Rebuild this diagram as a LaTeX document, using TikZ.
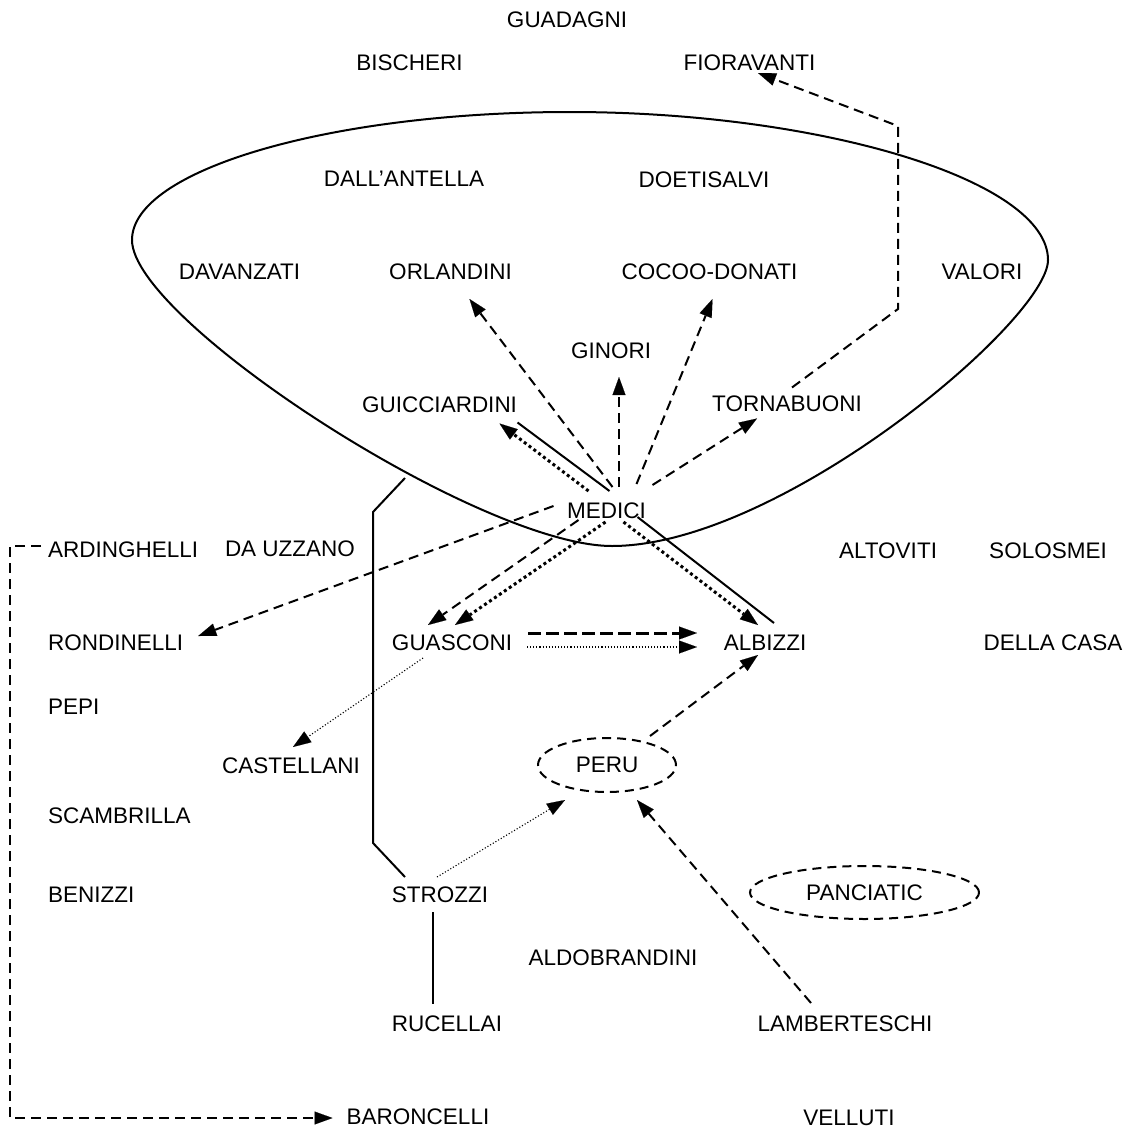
\documentclass[tikz,border=0pt]{standalone}
\usepackage{fontspec}
\setmainfont{Liberation Sans}
\usetikzlibrary{arrows.meta,calc,shapes.geometric}
\begin{document}
\begin{tikzpicture}[x=1pt,y=-1pt,
  lbl/.style={font=\fontsize{22.5}{27}\selectfont, inner sep=2pt},
  tip/.style={-{Triangle[length=18pt,width=13pt,line width=0.1pt]}},
  dsh/.style={line width=2pt, dash pattern=on 10pt off 6pt},
  dshthick/.style={line width=3pt, dash pattern=on 13pt off 5pt},
  dotthick/.style={line width=3pt, dash pattern=on 3pt off 3pt},
  dotthin/.style={line width=1.1pt, dash pattern=on 1.1pt off 2pt},
  solidline/.style={line width=2pt},
  egg/.style={ellipse, draw, line width=2pt, dash pattern=on 9pt off 6pt, inner sep=0pt}]
\useasboundingbox (0,0) rectangle (1127,1132);

% group outline
\draw[line width=2pt] (132,240) .. controls (132,170) and (330,112) .. (570,112)
  .. controls (820,112) and (1048,180) .. (1048,260)
  .. controls (1048,320) and (780,546) .. (612,546)
  .. controls (480,546) and (132,320) .. cycle;
\coordinate (ovalpt) at (405,478);

% labels
\node[lbl] (guadagni) at (567,20) {GUADAGNI};
\node[lbl] (bischeri) at (409.5,63) {BISCHERI};
\node[lbl] (fioravanti) at (749.5,63) {FIORAVANTI};
\node[lbl] (dallantella) at (404,179) {DALL’ANTELLA};
\node[lbl] (doetisalvi) at (704,179.5) {DOETISALVI};
\node[lbl] (davanzati) at (239.5,272) {DAVANZATI};
\node[lbl] (orlandini) at (450.5,272) {ORLANDINI};
\node[lbl] (cocoodonati) at (709.5,272) {COCOO-DONATI};
\node[lbl] (valori) at (982,272) {VALORI};
\node[lbl] (ginori) at (611,351) {GINORI};
\node[lbl] (guicciardini) at (439.5,404.5) {GUICCIARDINI};
\node[lbl] (tornabuoni) at (787,403.5) {TORNABUONI};
\node[lbl] (medici) at (606.5,511) {MEDICI};
\node[lbl,anchor=west] (ardinghelli) at (46,550) {ARDINGHELLI};
\node[lbl] (dauzzano) at (290,549) {DA UZZANO};
\node[lbl] (altoviti) at (888,551) {ALTOVITI};
\node[lbl] (solosmei) at (1048,551) {SOLOSMEI};
\node[lbl,anchor=west] (rondinelli) at (46,643) {RONDINELLI};
\node[lbl] (guasconi) at (452,643) {GUASCONI};
\node[lbl] (albizzi) at (765,643) {ALBIZZI};
\node[lbl] (dellacasa) at (1053,643) {DELLA CASA};
\node[lbl,anchor=west] (pepi) at (46,707) {PEPI};
\node[lbl] (castellani) at (291,766) {CASTELLANI};
\node[lbl,egg,minimum width=138pt,minimum height=54pt] (peru) at (607,765) {PERU};
\node[lbl,anchor=west] (scambrilla) at (46,816) {SCAMBRILLA};
\node[lbl,anchor=west] (benizzi) at (46,895) {BENIZZI};
\node[lbl] (strozzi) at (440,895) {STROZZI};
\node[lbl,egg,minimum width=229pt,minimum height=53pt] (panciatic) at (864.5,892.5) {PANCIATIC};
\node[lbl] (aldobrandini) at (613,958) {ALDOBRANDINI};
\node[lbl] (rucellai) at (447,1024) {RUCELLAI};
\node[lbl] (lamberteschi) at (845,1024) {LAMBERTESCHI};
\node[lbl] (baroncelli) at (418,1117) {BARONCELLI};
\node[lbl] (velluti) at (849,1118) {VELLUTI};

% Medici ties
\draw[dsh,tip] ($(medici)+(6,-24)$) -- ($(orlandini)+(19,27)$);
\draw[dsh,tip] ($(medici)+(12.5,-24)$) -- ($(ginori)+(8,26)$);
\draw[dsh,tip] ($(medici)+(30,-27)$) -- ($(cocoodonati)+(3,27)$);
\draw[dsh,tip] ($(medici)+(46,-26)$) -- ($(tornabuoni)+(-30,15)$);
\draw[dotthick,tip] ($(medici)+(-18,-20)$) -- ($(guicciardini)+(60,19)$);
\draw[solidline] ($(guicciardini)+(78,18)$) -- ($(medici)+(3,-20)$);
\draw[solidline] ($(medici)+(31,6)$) -- ($(albizzi)+(9,-20)$);
\draw[dotthick,tip] ($(medici)+(17,11)$) -- ($(albizzi)+(-7,-18)$);
\draw[dotthick,tip] ($(medici)+(-1,11)$) -- ($(guasconi)+(3,-18)$);
\draw[dsh,tip] ($(medici)+(-28,9)$) -- ($(guasconi)+(-24,-18)$);
\draw[dsh,tip] ($(medici)+(-53,-5)$) -- ($(rondinelli)+(82.5,-7)$);

% Guasconi ties
\draw[dshthick,tip] ($(guasconi)+(76,-10)$) -- ($(albizzi)+(-68,-10)$);
\draw[dotthin,tip] ($(guasconi)+(75,4)$) -- ($(albizzi)+(-68,4)$);
\draw[dotthin,tip] ($(guasconi)+(-29,15)$) -- ($(castellani)+(2,-19)$);

% Peru ties
\draw[dsh,tip] ($(peru)+(43,-29)$) -- ($(albizzi)+(-7,12)$);
\draw[dotthin,tip] ($(strozzi)+(-3,-18)$) -- ($(peru)+(-42,35)$);
\draw[dsh,tip] ($(lamberteschi)+(-34,-21)$) -- ($(peru)+(30,35)$);

% Strozzi ties
\draw[solidline] ($(strozzi)+(-7,17)$) -- ($(rucellai)+(-14,-20)$);
\draw[solidline] ($(strozzi)+(-35,-18)$) -- (373,843) -- (373,512) -- (ovalpt);

% long dashed routes
\draw[dsh,tip] ($(tornabuoni)+(5,-16)$) -- (898,309) -- (898,126) -- ($(fioravanti)+(8.5,10)$);
\draw[dsh,tip] ($(ardinghelli.west)+(-5,-4)$) -- (10,546) -- (10,1118) -- ($(baroncelli.west)+(-12,1)$);
\end{tikzpicture}
\end{document}
